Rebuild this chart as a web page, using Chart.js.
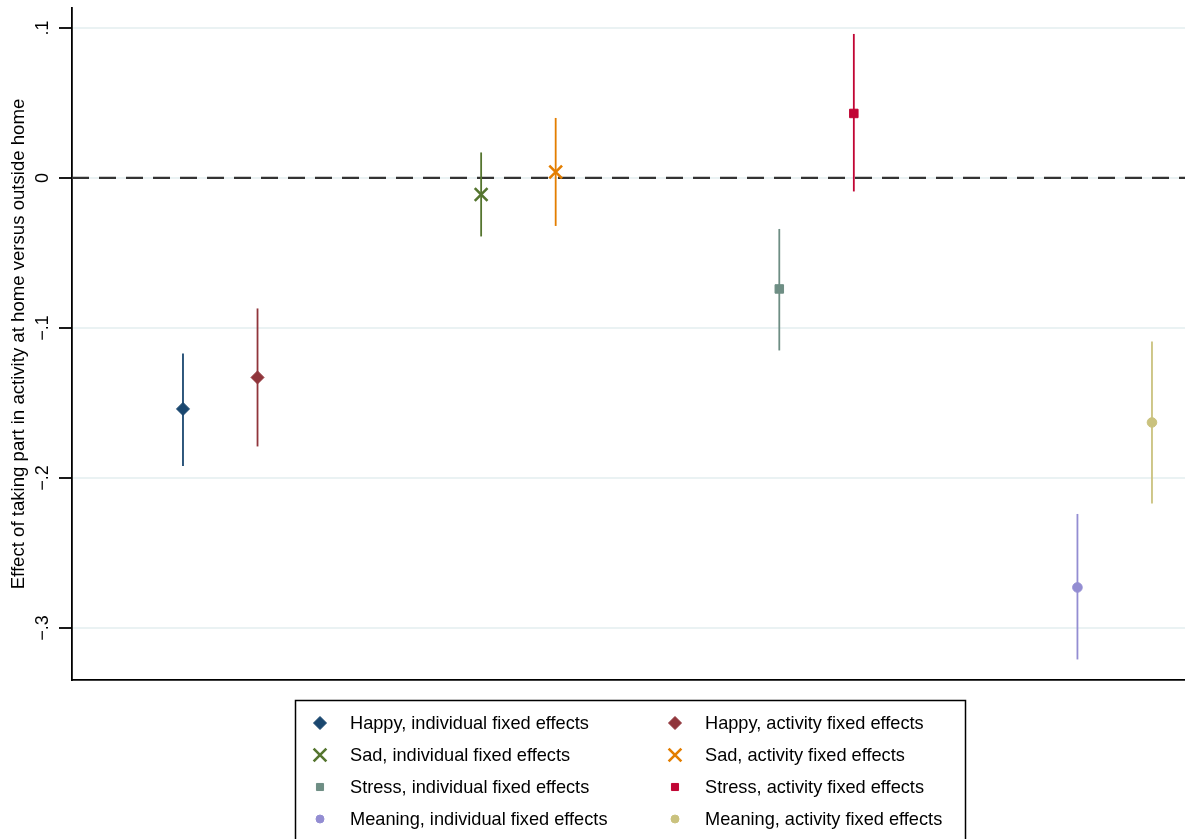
<!DOCTYPE html>
<html>
<head>
<meta charset="utf-8">
<script src="https://cdn.jsdelivr.net/npm/chart.js@4.4.0/dist/chart.umd.min.js"></script>
<style>
  html, body { margin: 0; padding: 0; background: #ffffff; }
  #wrap { width: 1185px; height: 839px; position: relative; }
  canvas { display: block; }
</style>
</head>
<body>
<div id="wrap"><canvas id="chart" width="1185" height="839"></canvas></div>
<script>
// Coefficients with 95% confidence intervals, by outcome and fixed-effects specification
const seriesLabels = [
  'Happy, individual fixed effects',
  'Happy, activity fixed effects',
  'Sad, individual fixed effects',
  'Sad, activity fixed effects',
  'Stress, individual fixed effects',
  'Stress, activity fixed effects',
  'Meaning, individual fixed effects',
  'Meaning, activity fixed effects'
];
const positions = [1, 2, 5, 6, 9, 10, 13, 14];
const estimates = [-0.154, -0.133, -0.011, 0.004, -0.074, 0.043, -0.273, -0.163];
const lowerCI   = [-0.192, -0.179, -0.039, -0.032, -0.115, -0.009, -0.321, -0.217];
const upperCI   = [-0.117, -0.087,  0.017,  0.040, -0.034,  0.096, -0.224, -0.109];
const yTicks      = [0.1, 0, -0.1, -0.2, -0.3];
const yTickLabels = ['.1', '0', '\u2212.1', '\u2212.2', '\u2212.3'];
const yTitle = 'Effect of taking part in activity at home versus outside home';

// Stata s2color palette and marker symbols
const colors  = ['#1a476f', '#90353b', '#55752f', '#e37e00', '#6e8e84', '#c10534', '#938dd2', '#cac27e'];
const markers = ['rectRot', 'rectRot', 'crossRot', 'crossRot', 'rect', 'rect', 'circle', 'circle'];
const markerRadius = { rectRot: 6.5, crossRot: 9, rect: 6, circle: 4.8 };
const markerBorder = { rectRot: 1, crossRot: 2.6, rect: 1, circle: 1 };

const FONT = "'Liberation Sans', Arial, Helvetica, sans-serif";
Chart.defaults.font.family = FONT;
Chart.defaults.color = '#000000';

const datasets = [];
seriesLabels.forEach((label, i) => {
  datasets.push({
    label: label + ' CI',
    isCI: true,
    showLine: true,
    data: [{ x: positions[i], y: lowerCI[i] }, { x: positions[i], y: upperCI[i] }],
    borderColor: colors[i],
    borderWidth: 1.8,
    pointRadius: 0,
    order: 1
  });
  datasets.push({
    label: label,
    isCI: false,
    data: [{ x: positions[i], y: estimates[i] }],
    pointStyle: markers[i],
    pointRadius: markerRadius[markers[i]],
    pointBorderWidth: markerBorder[markers[i]],
    backgroundColor: colors[i],
    borderColor: colors[i],
    order: 0
  });
});

// Dashed reference line at zero
const zeroLine = {
  id: 'zeroLine',
  beforeDatasetsDraw(chart) {
    const { ctx, chartArea, scales } = chart;
    const y = scales.y.getPixelForValue(0);
    ctx.save();
    ctx.strokeStyle = '#333333';
    ctx.lineWidth = 2.2;
    ctx.setLineDash([17, 10]);
    ctx.beginPath();
    ctx.moveTo(chartArea.left, y);
    ctx.lineTo(chartArea.right, y);
    ctx.stroke();
    ctx.restore();
  }
};

// Boxed two-column legend below the plot
const boxLegend = {
  id: 'boxLegend',
  afterDraw(chart) {
    const { ctx } = chart;
    const box = { x: 295, y: 700, w: 670, h: 160 };
    const colMarkerX = [320, 675];
    const colTextX = [350, 705];
    const rowY0 = 723, rowStep = 32;
    ctx.save();
    ctx.strokeStyle = '#000000';
    ctx.lineWidth = 1.5;
    ctx.strokeRect(box.x + 0.5, box.y + 0.5, box.w, box.h);
    ctx.font = '18.2px ' + FONT;
    ctx.textBaseline = 'middle';
    ctx.textAlign = 'left';
    chart.data.datasets.filter(d => !d.isCI).forEach((ds, k) => {
      const col = k % 2, row = Math.floor(k / 2);
      const y = rowY0 + row * rowStep;
      ctx.fillStyle = ds.backgroundColor;
      ctx.strokeStyle = ds.borderColor;
      ctx.lineWidth = ds.pointBorderWidth;
      const r = ds.pointStyle === 'circle' ? 4 : (ds.pointStyle === 'rect' ? 5 : ds.pointRadius);
      Chart.helpers.drawPoint(ctx, { pointStyle: ds.pointStyle, radius: r, borderWidth: ds.pointBorderWidth, rotation: 0 }, colMarkerX[col], y);
      ctx.fillStyle = '#000000';
      ctx.fillText(ds.label, colTextX[col], y + 1);
    });
    ctx.restore();
  }
};

function noPadding(scale) {
  scale.paddingTop = 0;
  scale.paddingBottom = 0;
  scale.paddingLeft = 0;
  scale.paddingRight = 0;
}

new Chart(document.getElementById('chart'), {
  type: 'scatter',
  data: { datasets },
  options: {
    responsive: false,
    animation: false,
    devicePixelRatio: 1,
    layout: { autoPadding: false, padding: { top: 8, bottom: 159, left: 0, right: 0 } },
    plugins: { legend: { display: false }, tooltip: { enabled: false } },
    scales: {
      x: {
        type: 'linear',
        min: -0.489,
        max: 14.443,
        grid: { display: false },
        border: { display: true, color: '#000000', width: 1.8 },
        ticks: { display: false },
        afterFit(scale) { scale.height = 0; noPadding(scale); }
      },
      y: {
        type: 'linear',
        min: -0.3347,
        max: 0.1133,
        afterBuildTicks(scale) { scale.ticks = yTicks.map(v => ({ value: v })); },
        ticks: {
          minRotation: 90,
          maxRotation: 90,
          crossAlign: 'center',
          padding: 3,
          font: { size: 18 },
          color: '#000000',
          callback(value) {
            const idx = yTicks.findIndex(t => Math.abs(t - value) < 1e-9);
            return idx >= 0 ? yTickLabels[idx] : '';
          }
        },
        grid: {
          color: '#eaf2f3',
          lineWidth: 2,
          drawTicks: true,
          tickColor: '#000000',
          tickWidth: 1.8,
          tickLength: 13
        },
        border: { display: true, color: '#000000', width: 1.8 },
        title: {
          display: true,
          text: yTitle,
          font: { size: 18.6 },
          color: '#000000',
          padding: { top: 8, bottom: 0 }
        },
        afterFit(scale) { scale.width = 72; noPadding(scale); }
      }
    }
  },
  plugins: [zeroLine, boxLegend]
});
</script>
</body>
</html>
